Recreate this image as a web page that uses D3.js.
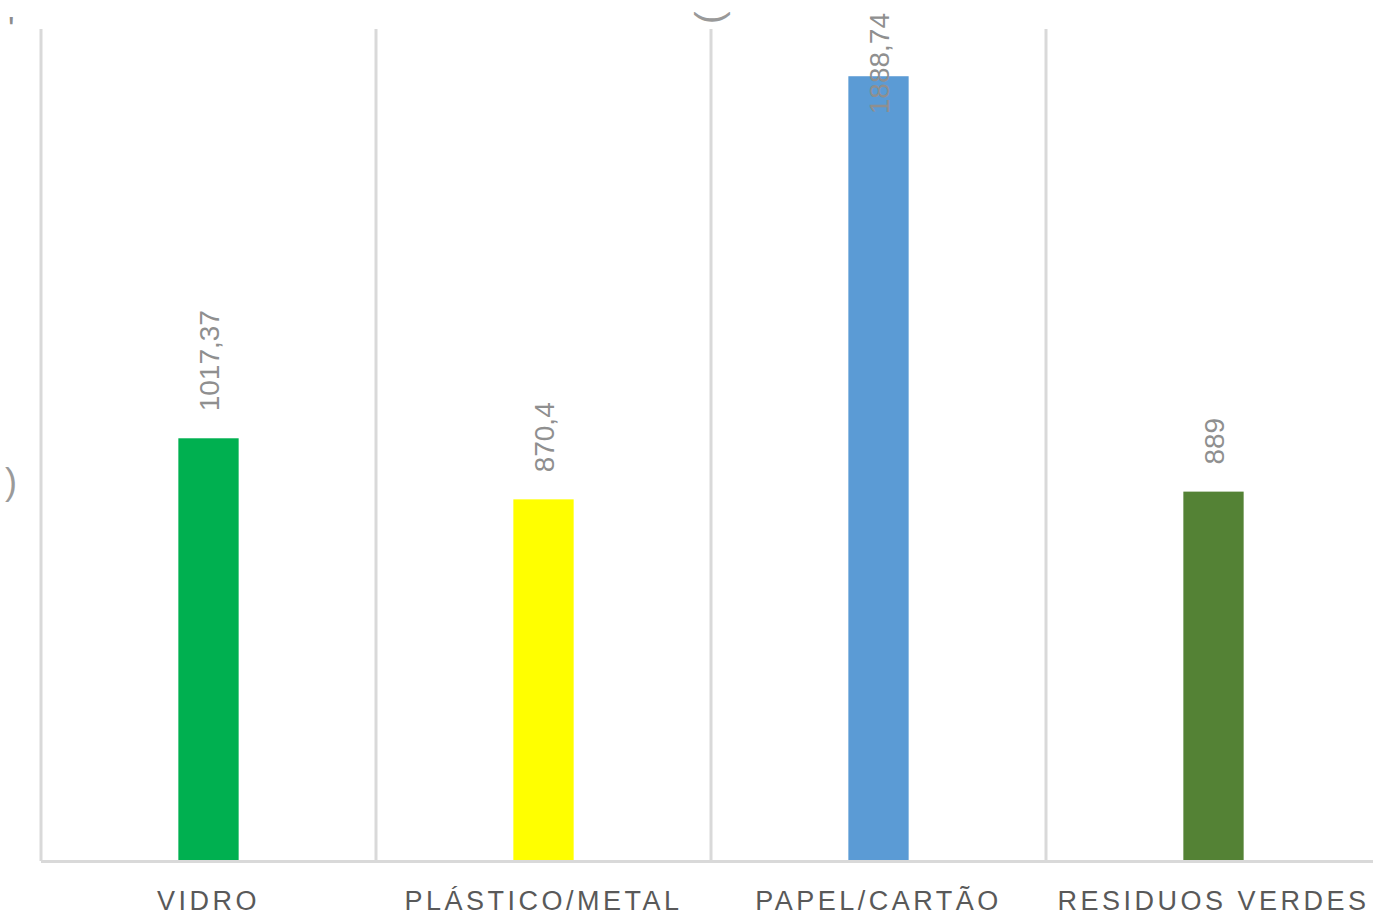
<!DOCTYPE html>
<html>
<head>
<meta charset="utf-8">
<script src="https://cdn.jsdelivr.net/npm/d3@7"></script>
<style>
  html, body { margin: 0; padding: 0; background: #fff; overflow: hidden; }
  svg { display: block; }
  text { font-family: "Liberation Sans", Arial, sans-serif; }
</style>
</head>
<body>
<svg id="chart"></svg>
<script>
const categories = ['VIDRO', 'PLÁSTICO/METAL', 'PAPEL/CARTÃO', 'RESIDUOS VERDES'];
const values = [1017.37, 870.4, 1888.74, 889];
const valueLabels = ['1017,37', '870,4', '1888,74', '889'];
const barColors = ['#00b050', '#ffff00', '#5b9bd5', '#548235'];

const width = 1373;
const height = 915;

const svg = d3.select('#chart')
    .attr('width', width)
    .attr('height', height);

const xScale = d3.scaleBand()
    .domain(categories)
    .range([41, 1381])
    .paddingInner(0)
    .paddingOuter(0);
const yScale = d3.scaleLinear()
    .domain([0, 2000])
    .range([861, 30]);

const barWidth = xScale.bandwidth() * 0.18;

// cut-off bits of the titles at the edges
svg.append('defs').append('clipPath').attr('id', 'topclip')
    .append('rect').attr('x', 0).attr('y', 12).attr('width', width).attr('height', 20);
svg.append('text')
    .attr('x', 8).attr('y', 40)
    .attr('font-size', 34)
    .attr('fill', '#8c8c8c')
    .text("'");
svg.append('g')
    .attr('clip-path', 'url(#topclip)')
  .append('text')
    .attr('transform', 'translate(722,24) rotate(-90)')
    .attr('font-size', 38)
    .attr('fill', '#999')
    .text('(');
svg.append('text')
    .attr('x', 5).attr('y', 494)
    .attr('font-size', 36)
    .attr('fill', '#9a9a9a')
    .text(')');

// vertical gridlines between categories
svg.append('g').selectAll('line').data(categories)
    .enter().append('line')
        .attr('x1', d => xScale(d))
        .attr('x2', d => xScale(d))
        .attr('y1', 29)
        .attr('y2', 861)
        .attr('stroke', '#d9d9d9')
        .attr('stroke-width', 3);

// bars
svg.append('g').selectAll('rect').data(values)
    .enter().append('rect')
        .attr('x', (d, i) => xScale(categories[i]) + xScale.bandwidth() / 2 - barWidth / 2)
        .attr('y', d => yScale(d))
        .attr('width', barWidth)
        .attr('height', d => yScale(0) - yScale(d))
        .attr('fill', (d, i) => barColors[i]);

// baseline
svg.append('line')
    .attr('x1', 41).attr('x2', width)
    .attr('y1', 861.5).attr('y2', 861.5)
    .attr('stroke', '#d9d9d9')
    .attr('stroke-width', 3);

// value labels, rotated
const labels = svg.append('g').selectAll('text').data(values)
    .enter().append('text')
        .attr('font-size', 28)
        .attr('fill', '#8f8f8f')
        .attr('dominant-baseline', 'central')
        .text((d, i) => valueLabels[i]);
labels.each(function(d, i) {
    const len = this.getComputedTextLength();
    const cx = xScale(categories[i]) + xScale.bandwidth() / 2 + 1;
    const y0 = Math.max(yScale(d) - 27, 13 + len);
    d3.select(this).attr('transform', `translate(${cx},${y0}) rotate(-90)`);
});

// category labels
svg.append('g').selectAll('text').data(categories)
    .enter().append('text')
        .attr('x', d => xScale(d) + xScale.bandwidth() / 2)
        .attr('y', 910)
        .attr('text-anchor', 'middle')
        .attr('font-size', 27)
        .attr('letter-spacing', 3.5)
        .attr('fill', '#595959')
        .text(d => d);
</script>
</body>
</html>
